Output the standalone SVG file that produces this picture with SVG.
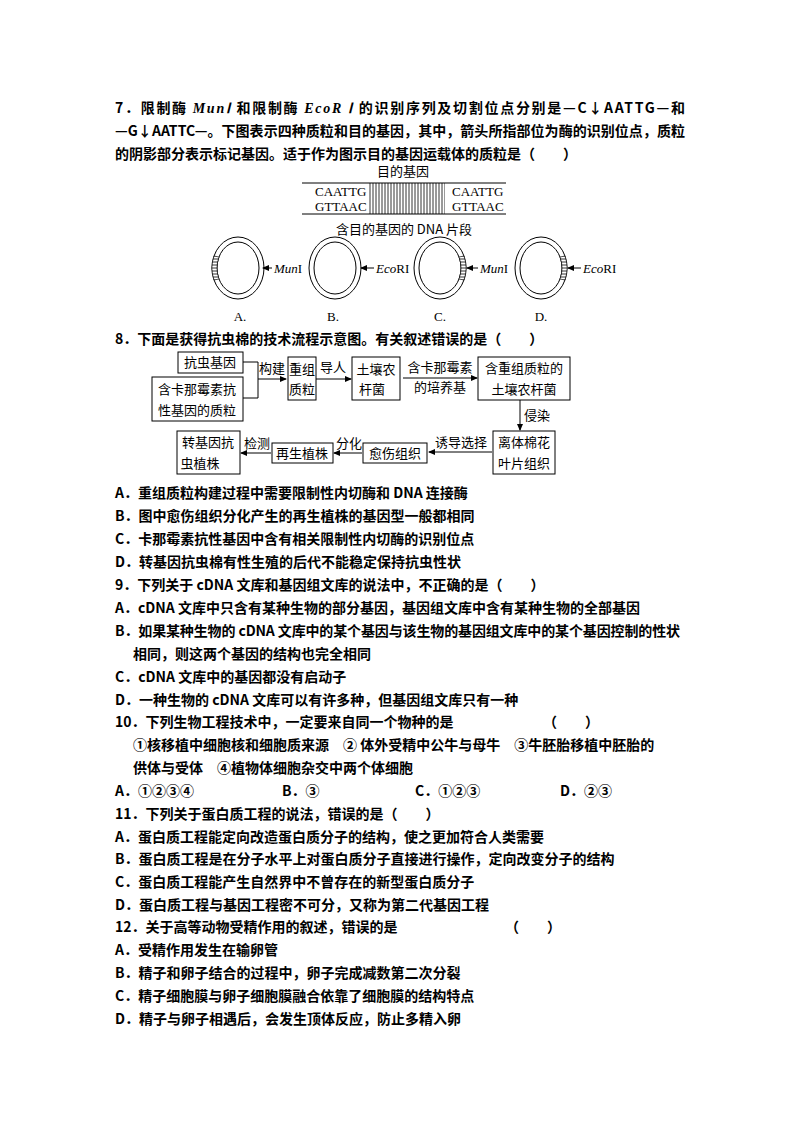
<svg xmlns="http://www.w3.org/2000/svg" width="794" height="1123" viewBox="0 0 794 1123">
<style>
.t{font-family:"Noto Sans CJK SC","Liberation Sans",sans-serif;font-size:14px;font-weight:bold;fill:#000}
.s{font-family:"Noto Sans CJK SC","Liberation Sans",sans-serif;font-size:13px;fill:#000}
.f{font-family:"Liberation Serif","Noto Sans CJK SC",serif;font-size:13px;fill:#000}
.b{fill:#fff;stroke:#000;stroke-width:1}
.l{stroke:#000;stroke-width:1;fill:none}
.h{fill:url(#hh);stroke:#000;stroke-width:0.6}
</style>
<defs><marker id="ah" markerWidth="7" markerHeight="6" refX="6" refY="3" orient="auto"><path d="M0,0L7,3L0,6z" fill="#000"/></marker>
<pattern id="hat" width="3" height="4" patternUnits="userSpaceOnUse"><path d="M1,0V4" stroke="#000" stroke-width="0.8"/></pattern>
<pattern id="hh" width="4" height="3" patternUnits="userSpaceOnUse"><rect width="4" height="3" fill="#fff"/><path d="M0,1H4" stroke="#000" stroke-width="0.8"/></pattern></defs>
<rect width="794" height="1123" fill="#fff"/>
<g id="q7">
<text class="t" x="115" y="113" textLength="570">7．限制酶 <tspan font-style="italic" font-family="Liberation Serif">MunⅠ</tspan> 和限制酶 <tspan font-style="italic" font-family="Liberation Serif">EcoR Ⅰ</tspan> 的识别序列及切割位点分别是—C↓AATTG—和</text>
<text class="t" x="115" y="136" textLength="570">—G↓AATTC—。下图表示四种质粒和目的基因，其中，箭头所指部位为酶的识别位点，质粒</text>
<text class="t" x="115" y="159">的阴影部分表示标记基因。适于作为图示目的基因运载体的质粒是（　　）</text>
</g>
<g id="dna">
<text class="s" x="403" y="176" text-anchor="middle">目的基因</text>
<line class="l" x1="302" y1="183" x2="506" y2="183"/>
<line class="l" x1="302" y1="214" x2="506" y2="214"/>
<rect x="369" y="183" width="76" height="31" fill="url(#hat)"/>
<text class="f" x="315" y="196">CAATTG</text><text class="f" x="315" y="211">GTTAAC</text>
<text class="f" x="452" y="196">CAATTG</text><text class="f" x="452" y="211">GTTAAC</text>
<text class="s" x="404" y="234" text-anchor="middle">含目的基因的 DNA 片段</text>
</g>
<g id="plasmids">
<g id="pA"><ellipse class="l" cx="238" cy="268" rx="26" ry="31"/><ellipse class="l" cx="238" cy="268" rx="21" ry="26"/><path class="h" d="M214,256 A26,31 0 0 0 214,280 L219,279 A21,26 0 0 1 219,257z"/></g>
<g id="pB"><ellipse class="l" cx="335" cy="268" rx="26" ry="31"/><ellipse class="l" cx="335" cy="268" rx="21" ry="26"/></g>
<g id="pC"><ellipse class="l" cx="440" cy="268" rx="26" ry="31"/><ellipse class="l" cx="440" cy="268" rx="21" ry="26"/><path class="h" d="M464,256 A26,31 0 0 1 464,280 L459,279 A21,26 0 0 0 459,257z"/></g>
<g id="pD"><ellipse class="l" cx="541" cy="268" rx="26" ry="31"/><ellipse class="l" cx="541" cy="268" rx="21" ry="26"/><path class="h" d="M565,256 A26,31 0 0 1 565,280 L560,279 A21,26 0 0 0 560,257z"/></g>
<text class="f" x="274" y="273" font-style="italic">Mun<tspan font-style="normal">I</tspan></text>
<text class="f" x="376" y="273" font-style="italic">Eco<tspan font-style="normal">RI</tspan></text>
<text class="f" x="480" y="273" font-style="italic">Mun<tspan font-style="normal">I</tspan></text>
<text class="f" x="583" y="273" font-style="italic">Eco<tspan font-style="normal">RI</tspan></text>
<text class="f" x="240" y="321" text-anchor="middle">A.</text>
<text class="f" x="333" y="321" text-anchor="middle">B.</text>
<text class="f" x="440" y="321" text-anchor="middle">C.</text>
<text class="f" x="541" y="321" text-anchor="middle">D.</text>
</g>
<g id="connectors">
<line class="l" x1="272" y1="268" x2="263" y2="268" marker-end="url(#ah)"/>
<line class="l" x1="374" y1="268" x2="361" y2="268" marker-end="url(#ah)"/>
<line class="l" x1="478" y1="268" x2="467" y2="268" marker-end="url(#ah)"/>
<line class="l" x1="581" y1="268" x2="568" y2="268" marker-end="url(#ah)"/>
<polyline class="l" points="243,362 258,362 258,398 243,398"/>
<line class="l" x1="258" y1="379" x2="286" y2="379" marker-end="url(#ah)"/>
<line class="l" x1="316" y1="379" x2="351" y2="379" marker-end="url(#ah)"/>
<line class="l" x1="403" y1="378" x2="477" y2="378" marker-end="url(#ah)"/>
<line class="l" x1="520" y1="400" x2="520" y2="430" marker-end="url(#ah)"/>
<line class="l" x1="492" y1="452" x2="429" y2="452" marker-end="url(#ah)"/>
<line class="l" x1="362" y1="453" x2="334" y2="453" marker-end="url(#ah)"/>
<line class="l" x1="271" y1="453" x2="241" y2="453" marker-end="url(#ah)"/>
</g>
<g id="flow" class="s">
<g id="n1"><rect class="b" x="178" y="352" width="65" height="21"/><text class="s" x="210" y="367" text-anchor="middle">抗虫基因</text></g>
<g id="n2"><rect class="b" x="152" y="377" width="91" height="44"/><text class="s" x="197" y="394" text-anchor="middle">含卡那霉素抗</text><text class="s" x="197" y="415" text-anchor="middle">性基因的质粒</text></g>
<g id="n3"><rect class="b" x="288" y="357" width="28" height="43"/><text class="s" x="302" y="374" text-anchor="middle" font-size="12">重组</text><text class="s" x="302" y="394" text-anchor="middle" font-size="12">质粒</text></g>
<g id="n4"><rect class="b" x="352" y="357" width="48" height="43"/><text class="s" x="376" y="374" text-anchor="middle">土壤农</text><text class="s" x="372" y="394" text-anchor="middle">杆菌</text></g>
<g id="n5"><rect class="b" x="478" y="357" width="92" height="43"/><text class="s" x="524" y="373" text-anchor="middle">含重组质粒的</text><text class="s" x="524" y="394" text-anchor="middle">土壤农杆菌</text></g>
<g id="n6"><rect class="b" x="493" y="431" width="62" height="43"/><text class="s" x="524" y="447" text-anchor="middle">离体棉花</text><text class="s" x="524" y="468" text-anchor="middle">叶片组织</text></g>
<g id="n7"><rect class="b" x="363" y="443" width="64" height="20"/><text class="s" x="395" y="458" text-anchor="middle">愈伤组织</text></g>
<g id="n8"><rect class="b" x="272" y="443" width="61" height="20"/><text class="s" x="302" y="458" text-anchor="middle">再生植株</text></g>
<g id="n9"><rect class="b" x="177" y="431" width="63" height="43"/><text class="s" x="208" y="447" text-anchor="middle">转基因抗</text><text class="s" x="200" y="468" text-anchor="middle">虫植株</text></g>
<text class="s" x="272" y="373" text-anchor="middle" font-size="11">构建</text>
<text class="s" x="333" y="372" text-anchor="middle" font-size="11">导人</text>
<text class="s" x="440" y="372" text-anchor="middle" font-size="11">含卡那霉素</text>
<text class="s" x="440" y="392" text-anchor="middle" font-size="11">的培养基</text>
<text class="s" x="537" y="420" text-anchor="middle" font-size="11">侵染</text>
<text class="s" x="461" y="447" text-anchor="middle" font-size="11">诱导选择</text>
<text class="s" x="349" y="448" text-anchor="middle" font-size="11">分化</text>
<text class="s" x="257" y="448" text-anchor="middle" font-size="11">检测</text>
</g>
<g id="questions" class="t">
<text class="t" x="115" y="344">8．下面是获得抗虫棉的技术流程示意图。有关叙述错误的是（　　）</text>
<text class="t" x="115" y="498">A．重组质粒构建过程中需要限制性内切酶和 DNA 连接酶</text>
<text class="t" x="115" y="521">B．图中愈伤组织分化产生的再生植株的基因型一般都相同</text>
<text class="t" x="115" y="544">C．卡那霉素抗性基因中含有相关限制性内切酶的识别位点</text>
<text class="t" x="115" y="567">D．转基因抗虫棉有性生殖的后代不能稳定保持抗虫性状</text>
<text class="t" x="115" y="590">9．下列关于 cDNA 文库和基因组文库的说法中，不正确的是（　　）</text>
<text class="t" x="115" y="613">A．cDNA 文库中只含有某种生物的部分基因，基因组文库中含有某种生物的全部基因</text>
<text class="t" x="115" y="636" textLength="565">B．如果某种生物的 cDNA 文库中的某个基因与该生物的基因组文库中的某个基因控制的性状</text>
<text class="t" x="133" y="659">相同，则这两个基因的结构也完全相同</text>
<text class="t" x="115" y="682">C．cDNA 文库中的基因都没有启动子</text>
<text class="t" x="115" y="705">D．一种生物的 cDNA 文库可以有许多种，但基因组文库只有一种</text>
<text class="t" x="115" y="727">10．下列生物工程技术中，一定要来自同一个物种的是</text>
<text class="t" x="543" y="727">（　　）</text>
<text class="t" x="133" y="750">①核移植中细胞核和细胞质来源　② 体外受精中公牛与母牛　③牛胚胎移植中胚胎的</text>
<text class="t" x="133" y="773">供体与受体　④植物体细胞杂交中两个体细胞</text>
<text class="t" x="115" y="796">A．①②③④</text>
<text class="t" x="282" y="796">B．③</text>
<text class="t" x="415" y="796">C．①②③</text>
<text class="t" x="560" y="796">D．②③</text>
<text class="t" x="115" y="819">11．下列关于蛋白质工程的说法，错误的是（　　）</text>
<text class="t" x="115" y="842">A．蛋白质工程能定向改造蛋白质分子的结构，使之更加符合人类需要</text>
<text class="t" x="115" y="864">B．蛋白质工程是在分子水平上对蛋白质分子直接进行操作，定向改变分子的结构</text>
<text class="t" x="115" y="887">C．蛋白质工程能产生自然界中不曾存在的新型蛋白质分子</text>
<text class="t" x="115" y="910">D．蛋白质工程与基因工程密不可分，又称为第二代基因工程</text>
<text class="t" x="115" y="932">12．关于高等动物受精作用的叙述，错误的是</text>
<text class="t" x="505" y="932">（　　）</text>
<text class="t" x="115" y="955">A．受精作用发生在输卵管</text>
<text class="t" x="115" y="978">B．精子和卵子结合的过程中，卵子完成减数第二次分裂</text>
<text class="t" x="115" y="1001">C．精子细胞膜与卵子细胞膜融合依靠了细胞膜的结构特点</text>
<text class="t" x="115" y="1024">D．精子与卵子相遇后，会发生顶体反应，防止多精入卵</text>
</g>
</svg>
